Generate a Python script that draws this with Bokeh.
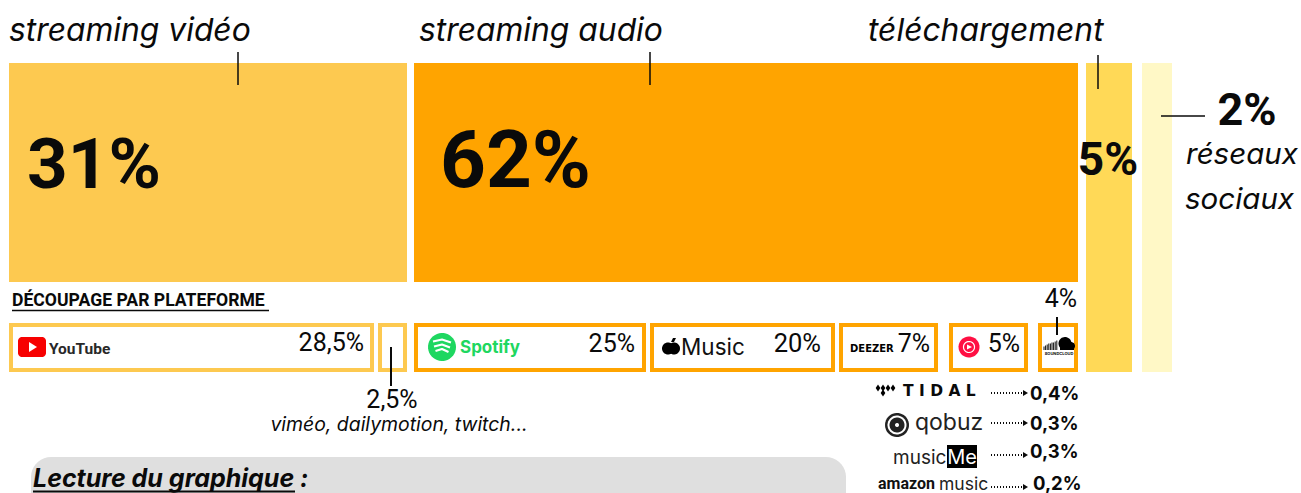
import numpy as np
from bokeh.core.properties import value
from bokeh.embed import file_html
from bokeh.models import Range1d
from bokeh.plotting import figure
from bokeh.resources import INLINE

# Parts of the overall breakdown
usage_names = ["streaming vidéo", "streaming audio", "téléchargement", "réseaux sociaux"]
usage_values = [31, 62, 5, 2]
usage_labels = ["31%", "62%", "5%", "2%"]

# Platforms inside each part
platform_names = ["YouTube", "autres vidéo", "Spotify", "Apple Music", "Deezer", "YouTube Music", "SoundCloud"]
platform_values = [28.5, 2.5, 25, 20, 7, 5, 4]
platform_labels = ["28,5%", "2,5%", "25%", "20%", "7%", "5%", "4%"]

small_names = ["TIDAL", "qobuz", "musicMe", "amazon music"]
small_values = [0.4, 0.3, 0.3, 0.2]
small_labels = ["0,4%", "0,3%", "0,3%", "0,2%"]

# Page geometry, in pixels
W, H = 1301, 493
USAGE_EDGES = [(9, 407), (414, 1078), (1086, 1132), (1142, 1172)]
USAGE_BOTTOMS = [282, 282, 372, 372]
USAGE_COLORS = ["#FDC950", "#FFA400", "#FFD957", "#FFF8C6"]
PLATFORM_EDGES = [(9, 374), (378, 407), (414, 646), (650, 835), (839, 938), (949, 1028), (1038, 1078)]
PLATFORM_COLORS = ["#FDC950"] * 2 + ["#FFA400"] * 5
FONT = "Inter"
NUM = "Roboto"
INK = "#0A0A0A"
BASELINE_SHIFT = 0.39  # svg text sits this many ems below the requested baseline

p = figure(width=W, height=H, output_backend="svg", toolbar_location=None,
           x_range=Range1d(0.5, W + 0.5), y_range=Range1d(H + 0.5, 0.5),
           min_border=0, outline_line_color=None, background_fill_color="white")
p.axis.visible = False
p.grid.visible = False


def label(x, y, s, size, align="left", style="normal", color=INK, font=FONT):
    p.text([x], [y - BASELINE_SHIFT * size], text=[s], text_font=value(font), text_font_size=f"{size}px",
           text_align=align, text_baseline="alphabetic", text_font_style=style, text_color=color)


def rule(x0, y0, x1, y1, width=1.5, color=INK, dash="solid"):
    p.segment([x0], [y0], [x1], [y1], line_width=width, line_color=color, line_dash=dash)


def rounded(x0, y0, x1, y1, r, color):
    t = np.linspace(0, np.pi / 2, 10)
    xs = np.concatenate([x1 - r + r * np.sin(t), x1 - r + r * np.cos(t), x0 + r - r * np.sin(t), x0 + r - r * np.cos(t)])
    ys = np.concatenate([y0 + r - r * np.cos(t), y1 - r + r * np.sin(t), y1 - r + r * np.cos(t), y0 + r - r * np.sin(t)])
    p.patch(xs, ys, fill_color=color, line_color=None)


def disc(x, y, r, color):
    t = np.linspace(0, 2 * np.pi, 40)
    p.patch(x + r * np.cos(t), y + r * np.sin(t), fill_color=color, line_color=None)


# Main bars
for (x0, x1), bottom, color in zip(USAGE_EDGES, USAGE_BOTTOMS, USAGE_COLORS):
    p.quad(left=[x0], right=[x1], top=[63], bottom=[bottom], fill_color=color, line_color=None)

# Platform frames
for (x0, x1), color in zip(PLATFORM_EDGES, PLATFORM_COLORS):
    p.quad(left=[x0 + 2], right=[x1 - 2], top=[325], bottom=[370], fill_color="white",
           line_color=color, line_width=4, line_join="miter")

# Headings above the bars
label(9, 42, usage_names[0], 31.8, style="italic")
label(419, 42, usage_names[1], 31.8, style="italic")
label(868, 42, usage_names[2], 31.8, style="italic")
rule(238, 52, 238, 85)
rule(650, 52, 650, 85)
rule(1098, 55, 1098, 89)
rule(1161, 116, 1205, 116)

# Big percentages
label(27, 191, usage_labels[0], 71, style="bold", font=NUM)
label(440, 191, usage_labels[1], 80, style="bold", font=NUM)
label(1108, 177, usage_labels[2], 46, align="center", style="bold", font=NUM)
label(1247, 127, usage_labels[3], 45, align="center", style="bold", font=NUM)
label(1186, 165, "réseaux", 29.5, style="italic")
label(1185, 210, "sociaux", 29.5, style="italic")

# Section title
label(12, 307, "DÉCOUPAGE PAR PLATEFORME", 17.6, style="bold", font=NUM)
rule(12, 310.5, 269, 310.5, width=1.5)

# Platform values
label(364, 352, platform_labels[0], 25, align="right", font=NUM)
label(635, 353, platform_labels[2], 25, align="right", font=NUM)
label(821, 353, platform_labels[3], 25.5, align="right", font=NUM)
label(930, 353, platform_labels[4], 25, align="right", font=NUM)
label(1020, 353, platform_labels[5], 25, align="right", font=NUM)
label(1061, 308, platform_labels[6], 25, align="center", font=NUM)
rule(1057, 317, 1057, 335, width=2)

label(392, 409, platform_labels[1], 25, align="center", font=NUM)
rule(391, 347, 391, 386, width=2)
label(399, 432, "viméo, dailymotion, twitch...", 19.4, align="center", style="italic")

# YouTube mark
rounded(18, 337, 46, 357, 4, "#F70000")
p.patch([29, 29, 37], [342, 352, 347], fill_color="white", line_color=None)
label(49, 355, "YouTube", 15.5, font=NUM, style="bold", color="#282828")

# Spotify mark
disc(442, 347, 14, "#1ED760")
for yy, half in zip([341.5, 346.5, 351], [9, 8, 6.5]):
    p.line(np.array([442 - half, 442, 442 + half]), np.array([yy, yy - 2, yy + 1]), line_color="white", line_width=2.2)
label(460, 354, "Spotify", 17, style="bold", color="#1ED760")

# Apple Music mark
disc(668, 348.5, 6, "#000000")
disc(674, 348.5, 6, "#000000")
p.patch([671, 673, 676, 674], [342, 338, 338, 342], fill_color="black", line_color=None)
label(681, 355, "Music", 22.5, color="#111111")

# Deezer mark
label(850, 352, "DEEZER", 10, style="bold", font="DejaVu Sans", color="#000000")

# YouTube Music mark
disc(969, 347, 10.5, "#FF0F43")
t = np.linspace(0, 2 * np.pi, 40)
p.line(969 + 5.5 * np.cos(t), 347 + 5.5 * np.sin(t), line_color="white", line_width=1.2)
p.patch([967, 967, 972], [344.5, 349.5, 347], fill_color="white", line_color=None)

# SoundCloud mark
for xx, tall in zip(np.arange(1044, 1058, 1.6), [3, 4, 5, 6, 6, 7, 7, 8, 9]):
    p.segment([xx], [349.5 - tall], [xx], [350], line_color="#111111", line_width=1)
disc(1065, 343.5, 6.5, "black")
disc(1071, 346, 4, "black")
p.quad(left=[1060], right=[1074], top=[344], bottom=[350], fill_color="black", line_color=None)
label(1059, 355.5, "SOUNDCLOUD", 4, align="center", style="bold")

# Minor services, each with a dotted arrow to its value
ROW_Y = [393, 423, 455, 487]
for y, text, off, dy in zip(ROW_Y, small_labels, [0, 0, 0, 3], [7, 7, 3, 3.5]):
    rule(991, y, 1024, y, width=2, dash="1 2")
    p.patch([1023, 1028, 1023], [y - 3, y, y + 3], fill_color=INK, line_color=None)
    label(1030 + off, y + dy, text, 18.5, style="bold")

# TIDAL
for xx, yy in [(878, 388), (883, 388), (888, 388), (883, 393), (893, 388)]:
    p.scatter([xx], [yy], marker="diamond", size=7, fill_color="black", line_color=None)
label(903, 397, "T I D A L", 15.5, style="bold", font="DejaVu Sans")

# qobuz
disc(897, 425, 12, "#222222")
disc(897, 425, 9.5, "white")
disc(897, 425, 7.5, "#222222")
disc(897, 425, 2, "white")
label(915, 431, "qobuz", 23, color="#222222")

# musicMe
label(893, 465, "music", 19, color="#222222")
p.quad(left=[947], right=[977], top=[445], bottom=[468], fill_color="black", line_color=None)
label(962, 465, "Me", 20, align="center", color="white")

# amazon music
label(878, 490, "amazon", 16, style="bold", font=NUM, color="#111111")
label(939, 490, "music", 17.5, color="#222222")

# Reading guide panel, running off the bottom of the page
rounded(31, 457, 846, 530, 20, "#DFDFDF")
label(33, 488, "Lecture du graphique :", 25, style="bold italic")
rule(33, 491.5, 295, 491.5, width=2)

open("out.html", "w").write(file_html(p, INLINE))
